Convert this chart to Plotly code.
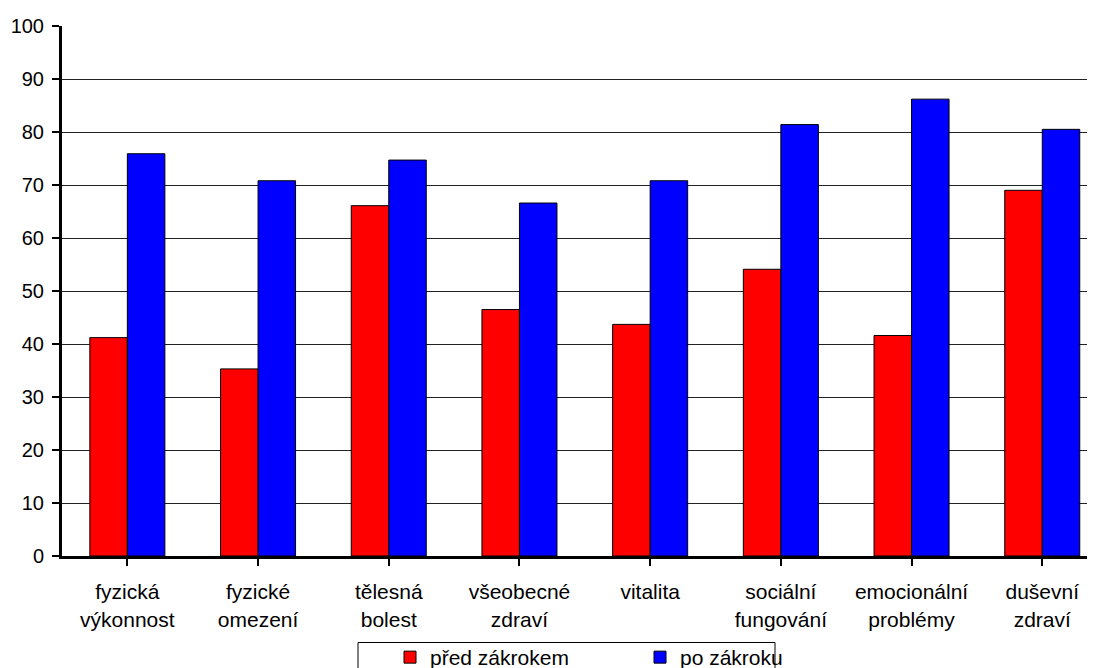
import plotly.graph_objects as go

categories = ["fyzická<br>výkonnost", "fyzické<br>omezení", "tělesná<br>bolest",
              "všeobecné<br>zdraví", "vitalita", "sociální<br>fungování",
              "emocionální<br>problémy", "duševní<br>zdraví"]
pred_zakrokem = [41.2, 35.3, 66.1, 46.5, 43.7, 54.1, 41.6, 69.0]
po_zakroku = [75.9, 70.8, 74.7, 66.6, 70.8, 81.4, 86.2, 80.5]
y_ticks = [0, 10, 20, 30, 40, 50, 60, 70, 80, 90, 100]

# page offset (body margin) compensation
OFF = 8
W, H = 1095, 700
# desired page coords: plot left 62, top 25.7, bottom 556, right 1095
L = 62 - OFF
T = 26 - OFF
Bpx = 556 - OFF
R = W - (1095 - OFF)
B = H - Bpx
pw, ph = W - L - R, H - T - B

fig = go.Figure()
fig.add_trace(go.Bar(x=list(range(len(categories))), y=pred_zakrokem, name="před zákrokem",
                     marker=dict(color="#FF0000", line=dict(color="black", width=1))))
fig.add_trace(go.Bar(x=list(range(len(categories))), y=po_zakroku, name="po zákroku",
                     marker=dict(color="#0000FF", line=dict(color="black", width=1))))

cat_px = 130.7
xmax = pw / cat_px - 0.5

def px_x(page_x):
    return (page_x - OFF - L) / pw

def px_y(page_y):
    return (Bpx - (page_y - OFF)) / ph

fig.add_shape(type="rect", xref="paper", yref="paper",
              x0=px_x(358), x1=px_x(775), y0=px_y(700), y1=px_y(642.5),
              line=dict(color="black", width=1), fillcolor="white", layer="below")

fig.update_layout(
    width=W, height=H,
    margin=dict(l=L, r=R, t=T, b=B, pad=0, autoexpand=False),
    paper_bgcolor="white", plot_bgcolor="white",
    font=dict(family="Liberation Sans, Arial, sans-serif", size=21, color="black"),
    barmode="group", bargap=0.426, bargroupgap=0,
    showlegend=True,
    legend=dict(orientation="h", x=px_x(390), y=px_y(637), xanchor="left", yanchor="top",
                bgcolor="rgba(0,0,0,0)", borderwidth=0, entrywidth=205,
                font=dict(size=21), traceorder="normal"),
    xaxis=dict(range=[-0.5, xmax], tickmode="array",
               tickvals=list(range(len(categories))), ticktext=categories,
               tickson="boundaries", ticks="outside", ticklen=7, tickwidth=2, tickcolor="black",
               showline=True, linecolor="black", linewidth=3, showgrid=False,
               tickfont=dict(size=21), ticklabelstandoff=8),
    yaxis=dict(range=[0, 100], tickvals=y_ticks, ticks="outside", ticklen=7, tickwidth=2,
               tickcolor="black", showline=True, linecolor="black", linewidth=3,
               showgrid=True, gridcolor="#222222", gridwidth=1, zeroline=False,
               tickfont=dict(size=20), ticklabelstandoff=4),
)

fig.write_html("out.html")
